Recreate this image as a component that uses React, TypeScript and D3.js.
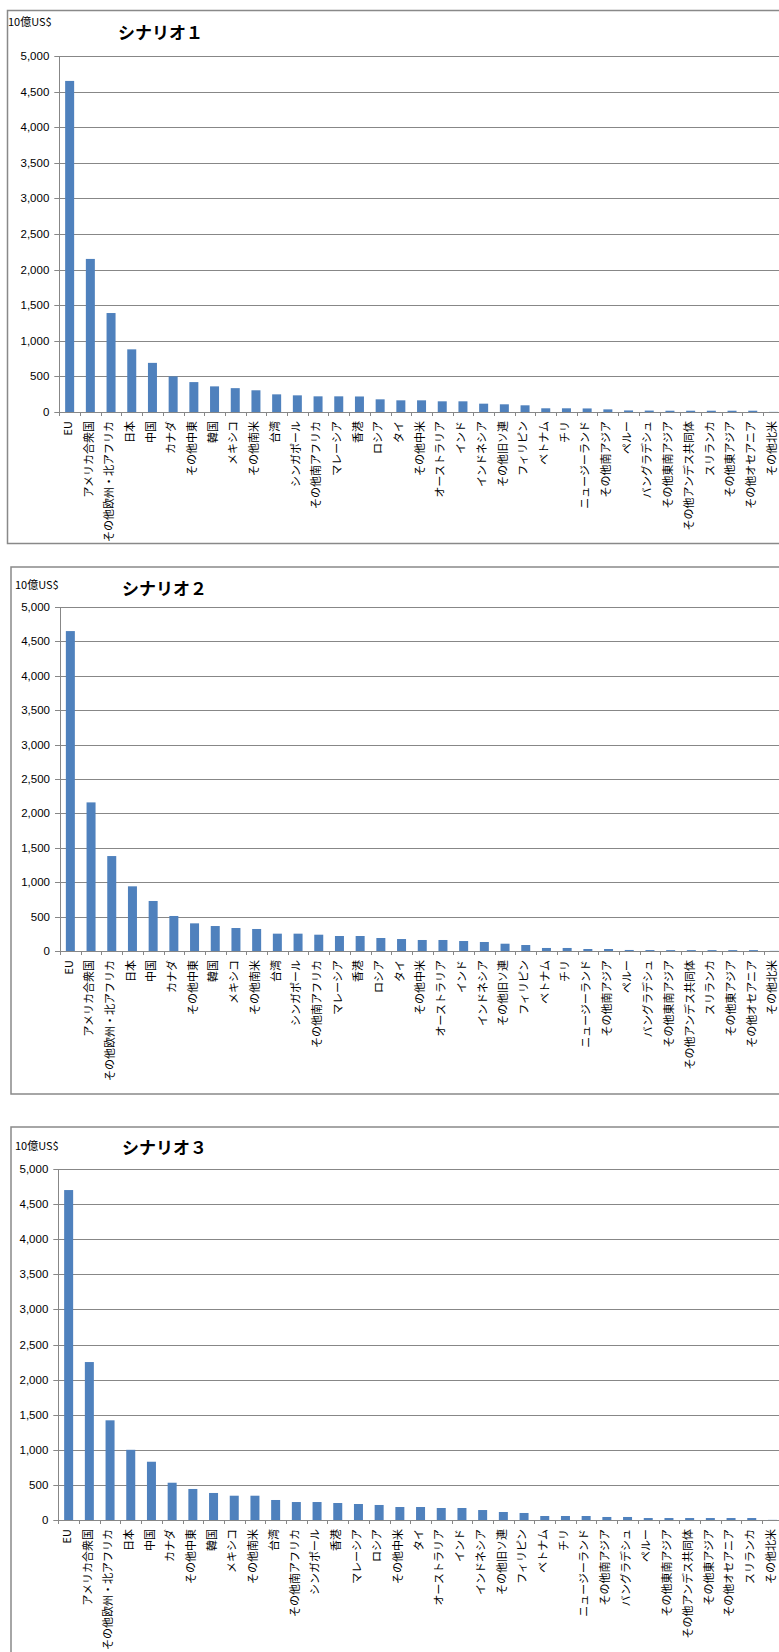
import React from "react";
import * as d3 from "d3";

const categories1 = ["EU","アメリカ合衆国","その他欧州・北アフリカ","日本","中国","カナダ","その他中東","韓国","メキシコ","その他南米","台湾","シンガポール","その他南アフリカ","マレーシア","香港","ロシア","タイ","その他中米","オーストラリア","インド","インドネシア","その他旧ソ連","フィリピン","ベトナム","チリ","ニュージーランド","その他南アジア","ペルー","バングラデシュ","その他東南アジア","その他アンデス共同体","スリランカ","その他東アジア","その他オセアニア","その他北米"];
const values1 = [4650,2150,1390,880,690,500,420,360,335,305,248,234,220,220,218,178,164,164,150,150,117,108,94,52,52,50,37,22,20,18,18,18,18,18,2];

const categories2 = categories1;
const values2 = [4650,2160,1380,940,727,509,402,363,334,320,252,252,237,218,218,189,174,160,160,145,131,106,87,44,44,29,29,15,14,13,13,13,13,13,2];

const categories3 = ["EU","アメリカ合衆国","その他欧州・北アフリカ","日本","中国","カナダ","その他中東","韓国","メキシコ","その他南米","台湾","その他南アフリカ","シンガポール","香港","マレーシア","ロシア","その他中米","タイ","オーストラリア","インド","インドネシア","その他旧ソ連","フィリピン","ベトナム","チリ","ニュージーランド","その他南アジア","バングラデシュ","ペルー","その他東南アジア","その他アンデス共同体","その他東アジア","その他オセアニア","スリランカ","その他北米"];
const values3 = [4700,2250,1420,1000,830,531,442,385,346,346,285,256,256,242,228,214,185,185,171,171,142,114,100,57,57,57,43,43,28,28,28,28,28,28,2];

const yTicks = [0,500,1000,1500,2000,2500,3000,3500,4000,4500,5000];
const titles = ["シナリオ１","シナリオ２","シナリオ３"];
const unitLabel = "10億US$";

const JP = "'Noto Sans CJK JP', 'Noto Sans', sans-serif";
const NUM = "'Liberation Sans', Arial, sans-serif";

type ChartProps = {
  cats: string[]; vals: number[]; title: string;
  frame: { x: number; y: number; h: number };
  axisX: number; y0: number; y5000: number;
  unitPos: [number, number]; titlePos: [number, number];
};

function Chart({ cats, vals, title, frame, axisX, y0, y5000, unitPos, titlePos }: ChartProps) {
  const step = 20.7;
  const x = d3.scaleBand<string>().domain(cats).range([axisX, axisX + step * cats.length]).paddingInner(0).paddingOuter(0);
  const y = d3.scaleLinear().domain([0, 5000]).range([y0, y5000]);
  const bw = 9;
  const fmt = d3.format(",");
  return (
    <g>
      <rect x={frame.x} y={frame.y} width={800} height={frame.h} fill="#fff" stroke="#898989" strokeWidth={1.5} />
      <text x={unitPos[0]} y={unitPos[1]} fontFamily={JP} fontSize={11} fill="#000">{unitLabel}</text>
      <text x={titlePos[0]} y={titlePos[1]} fontFamily={JP} fontSize={17} fontWeight="bold" fill="#000">{title}</text>
      {yTicks.map((t) => (
        <g key={t}>
          {t > 0 && <line x1={axisX} x2={800} y1={Math.round(y(t)) + 0.5} y2={Math.round(y(t)) + 0.5} stroke="#878787" strokeWidth={1} />}
          <line x1={axisX - 5} x2={axisX} y1={Math.round(y(t)) + 0.5} y2={Math.round(y(t)) + 0.5} stroke="#878787" strokeWidth={1} />
          <text x={axisX - 10} y={y(t)} dy="0.35em" textAnchor="end" fontFamily={NUM} fontSize={11.5} fill="#000">{fmt(t)}</text>
        </g>
      ))}
      {cats.map((c, i) => (
        <rect key={c + i} x={(x(c) as number) + (step - bw) / 2} y={y(vals[i])} width={bw} height={y0 - y(vals[i])} fill="#4F81BD" />
      ))}
      <line x1={Math.round(axisX) + 0.5} x2={Math.round(axisX) + 0.5} y1={y5000} y2={y0} stroke="#878787" strokeWidth={1} />
      <line x1={axisX} x2={800} y1={Math.round(y0) + 0.5} y2={Math.round(y0) + 0.5} stroke="#878787" strokeWidth={1} />
      {d3.range(cats.length + 1).map((i) => {
        const xx = Math.round(axisX + i * step) + 0.5;
        return <line key={"t" + i} x1={xx} x2={xx} y1={y0} y2={y0 + 4} stroke="#878787" strokeWidth={1} />;
      })}
      {cats.map((c, i) => {
        const cx = (x(c) as number) + step / 2 - 2.8;
        const ty = y0 + 9;
        return (
          <text key={"l" + i} transform={`translate(${cx},${ty}) rotate(-90)`} textAnchor="end" dominantBaseline="central" fontFamily={JP} fontSize={11} fill="#000">{c}</text>
        );
      })}
    </g>
  );
}

export default function App() {
  return (
    <svg width={779} height={1652} style={{ position: "absolute", left: 0, top: 0, background: "#fff" }}>
      <rect x={0} y={0} width={779} height={1652} fill="#fff" />
      <Chart cats={categories1} vals={values1} title={titles[0]}
        frame={{ x: 7.5, y: 10.5, h: 533 }} axisX={59.3} y0={412} y5000={56}
        unitPos={[8, 26]} titlePos={[118, 39]} />
      <Chart cats={categories2} vals={values2} title={titles[1]}
        frame={{ x: 11, y: 567, h: 527 }} axisX={60} y0={951} y5000={607}
        unitPos={[15, 589]} titlePos={[122, 595]} />
      <Chart cats={categories3} vals={values3} title={titles[2]}
        frame={{ x: 11, y: 1127, h: 560 }} axisX={58.3} y0={1520} y5000={1169}
        unitPos={[15, 1150]} titlePos={[122, 1154]} />
    </svg>
  );
}
